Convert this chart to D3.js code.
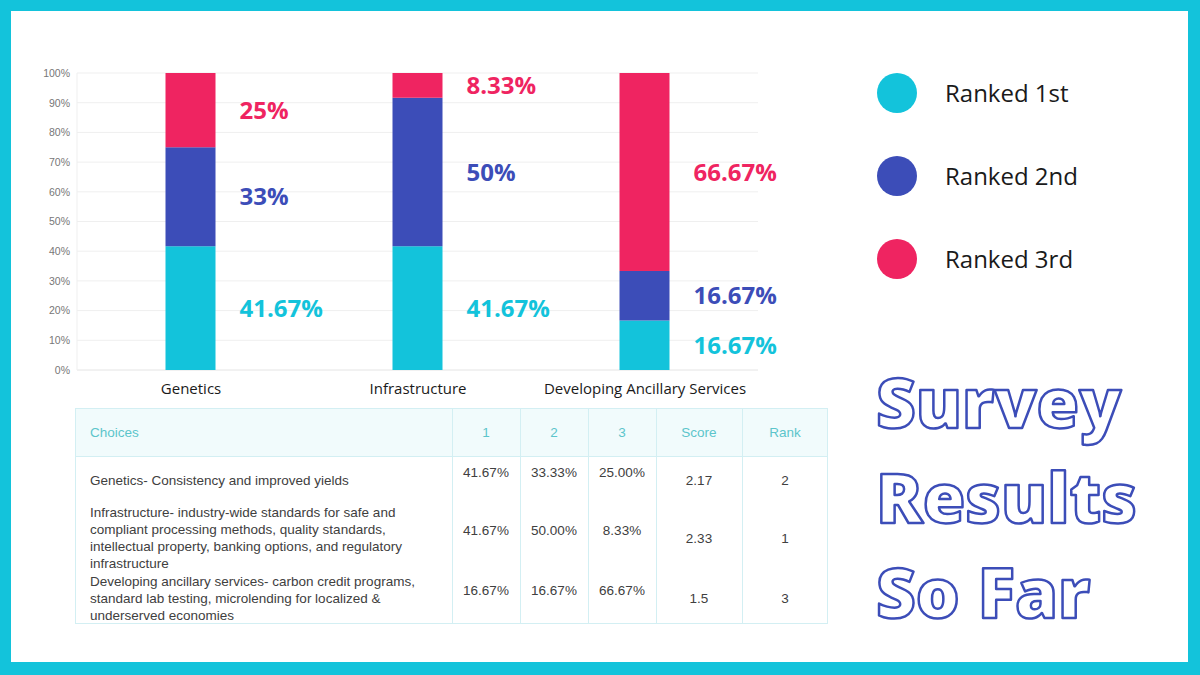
<!DOCTYPE html>
<html>
<head>
<meta charset="utf-8">
<script src="https://cdn.jsdelivr.net/npm/d3@7"></script>
<style>
  body { margin: 0; background: #fff; }
  svg { display: block; }
</style>
</head>
<body>
<svg id="chart" width="1200" height="675"></svg>
<script>
// values
const categories = ["Genetics", "Infrastructure", "Developing Ancillary Services"];
const seriesNames = ["Ranked 1st", "Ranked 2nd", "Ranked 3rd"];
const ranked1 = [41.67, 41.67, 16.67];
const ranked2 = [33.33, 50.00, 16.67];
const ranked3 = [25.00, 8.33, 66.67];
const labels1 = ["41.67%", "41.67%", "16.67%"];
const labels2 = ["33%", "50%", "16.67%"];
const labels3 = ["25%", "8.33%", "66.67%"];
const yTicks = [0, 10, 20, 30, 40, 50, 60, 70, 80, 90, 100];

const tableHeaders = ["Choices", "1", "2", "3", "Score", "Rank"];
const choiceLines = [
  ["Genetics- Consistency and improved yields"],
  ["Infrastructure- industry-wide standards for safe and",
   "compliant processing methods, quality standards,",
   "intellectual property, banking options, and regulatory",
   "infrastructure"],
  ["Developing ancillary services- carbon credit programs,",
   "standard lab testing, microlending for localized &",
   "underserved economies"]
];
const scores = ["2.17", "2.33", "1.5"];
const ranks = ["2", "1", "3"];
const titleLines = ["Survey", "Results", "So Far"];

const colors = ["#13c3db", "#3c4db8", "#ef2461"];

const svg = d3.select("#chart");

// cyan frame
svg.append("rect").attr("width", 1200).attr("height", 675).attr("fill", "#13c3db");
svg.append("rect").attr("x", 11).attr("y", 11).attr("width", 1177).attr("height", 651).attr("fill", "#fff");

// ---- stacked bars ----
const x = d3.scalePoint().domain(categories).range([77, 758]).padding(0.5);
const y = d3.scaleLinear().domain([0, 100]).range([370, 73]).clamp(true);
const barW = 50;

const rows = categories.map((c, i) => ({cat: c, r1: ranked1[i], r2: ranked2[i], r3: ranked3[i]}));
const stack = d3.stack().keys(["r1", "r2", "r3"])(rows);
const labelSets = [labels1, labels2, labels3];

const grid = svg.append("g");
grid.selectAll("line").data(yTicks).join("line")
  .attr("x1", 77).attr("x2", 758)
  .attr("y1", d => y(d)).attr("y2", d => y(d))
  .attr("stroke", d => d === 0 ? "#e4e4e4" : "#efefef").attr("stroke-width", 1);
grid.append("line").attr("x1", 77).attr("x2", 77).attr("y1", y(100)).attr("y2", y(0))
  .attr("stroke", "#efefef");

const yAxis = svg.append("g").attr("transform", "translate(77,0)")
  .call(d3.axisLeft(y).tickValues(yTicks).tickFormat(d => d + "%").tickSize(0).tickPadding(7));
yAxis.select(".domain").remove();
yAxis.selectAll("text").attr("font-family", "Liberation Sans, Arial, sans-serif")
  .attr("font-size", 10.5).attr("fill", "#777");

const layers = svg.append("g").selectAll("g").data(stack).join("g")
  .attr("fill", (d, i) => colors[i]);
layers.selectAll("rect").data(d => d).join("rect")
  .attr("x", d => x(d.data.cat) - barW / 2)
  .attr("width", barW)
  .attr("y", d => y(d[1]))
  .attr("height", d => y(d[0]) - y(d[1]));

svg.append("g").selectAll("g").data(stack).join("g")
  .attr("fill", (d, i) => colors[i])
  .each(function(layer, li) {
    d3.select(this).selectAll("text").data(layer).join("text")
      .attr("x", d => x(d.data.cat) + barW / 2 + 24)
      .attr("y", d => y((d[0] + d[1]) / 2))
      .attr("dy", "0.36em")
      .attr("font-family", "Open Sans, sans-serif")
      .attr("font-weight", 700)
      .attr("font-size", 24)
      .text((d, i) => labelSets[li][i]);
  });

const xAxis = svg.append("g").attr("transform", "translate(0,370)")
  .call(d3.axisBottom(x).tickSize(0).tickPadding(13));
xAxis.select(".domain").remove();
xAxis.selectAll("text").attr("font-family", "Open Sans, sans-serif")
  .attr("font-size", 15).attr("fill", "#1a1a1a");

// ---- legend ----
const legend = svg.append("g").selectAll("g").data(seriesNames).join("g")
  .attr("transform", (d, i) => `translate(897,${93 + i * 83})`);
legend.append("circle").attr("r", 20).attr("fill", (d, i) => colors[i]);
legend.append("text").attr("x", 48).attr("dy", "0.36em")
  .attr("font-family", "Open Sans, sans-serif").attr("font-size", 24).attr("fill", "#1a1a1a")
  .text(d => d);

// ---- title ----
svg.append("g").selectAll("text").data(titleLines).join("text")
  .attr("x", 876).attr("y", (d, i) => 428 + i * 95)
  .attr("font-family", "Open Sans, sans-serif").attr("font-weight", 800).attr("font-size", 69)
  .attr("fill", "#fff").attr("stroke", "#3c4db8").attr("stroke-width", 2.5)
  .attr("stroke-linejoin", "round")
  .text(d => d);

// ---- table ----
const tLeft = 75, tRight = 828, tTop = 408, headH = 48;
const colEdges = [tLeft, 452, 520, 588, 656, 742, tRight];
const rowHeights = [48, 68, 52];
const lineH = 17;
const fs = 13.5;
const tableFont = "Liberation Sans, Arial, sans-serif";
const borderC = "#d3eff3";

let acc = tTop + headH;
const rowTops = rowHeights.map(h => { const t = acc; acc += h; return t; });
const tBottom = acc;

const table = svg.append("g");
table.append("rect").attr("x", tLeft).attr("y", tTop).attr("width", tRight - tLeft).attr("height", headH)
  .attr("fill", "#f1fbfc");
table.append("rect").attr("x", tLeft + 0.5).attr("y", tTop + 0.5)
  .attr("width", tRight - tLeft - 1).attr("height", tBottom - tTop - 1)
  .attr("fill", "none").attr("stroke", borderC);
table.append("line").attr("x1", tLeft).attr("x2", tRight)
  .attr("y1", tTop + headH + 0.5).attr("y2", tTop + headH + 0.5).attr("stroke", borderC);
table.selectAll(".vline").data(colEdges.slice(1, -1)).join("line")
  .attr("class", "vline")
  .attr("x1", d => d + 0.5).attr("x2", d => d + 0.5)
  .attr("y1", tTop).attr("y2", tBottom).attr("stroke", borderC);

table.selectAll(".head").data(tableHeaders).join("text")
  .attr("class", "head")
  .attr("x", (d, i) => i === 0 ? tLeft + 15 : (colEdges[i] + colEdges[i + 1]) / 2)
  .attr("y", tTop + headH / 2).attr("dy", "0.35em")
  .attr("text-anchor", (d, i) => i === 0 ? "start" : "middle")
  .attr("font-family", tableFont).attr("font-size", fs).attr("fill", "#5cc5cb")
  .text(d => d);

const body = table.selectAll(".row").data(categories).join("g").attr("class", "row")
  .attr("transform", (d, i) => `translate(0,${rowTops[i] + rowHeights[i] / 2})`);

body.each(function(cat, i) {
  const g = d3.select(this);
  const lines = choiceLines[i];
  g.selectAll(".choice").data(lines).join("text")
    .attr("class", "choice")
    .attr("x", tLeft + 15)
    .attr("y", (d, j) => (j - (lines.length - 1) / 2) * lineH)
    .attr("dy", "0.35em")
    .attr("font-family", tableFont).attr("font-size", fs).attr("fill", "#404040")
    .text(d => d);
  const vals = [ranked1[i], ranked2[i], ranked3[i]].map(v => v.toFixed(2) + "%");
  g.selectAll(".pct").data(vals).join("text")
    .attr("class", "pct")
    .attr("x", (d, j) => (colEdges[j + 1] + colEdges[j + 2]) / 2)
    .attr("y", -8).attr("dy", "0.35em").attr("text-anchor", "middle")
    .attr("font-family", tableFont).attr("font-size", fs).attr("fill", "#404040")
    .text(d => d);
  g.selectAll(".sr").data([scores[i], ranks[i]]).join("text")
    .attr("class", "sr")
    .attr("x", (d, j) => (colEdges[j + 4] + colEdges[j + 5]) / 2)
    .attr("y", 0).attr("dy", "0.35em").attr("text-anchor", "middle")
    .attr("font-family", tableFont).attr("font-size", fs).attr("fill", "#404040")
    .text(d => d);
});
</script>
</body>
</html>
